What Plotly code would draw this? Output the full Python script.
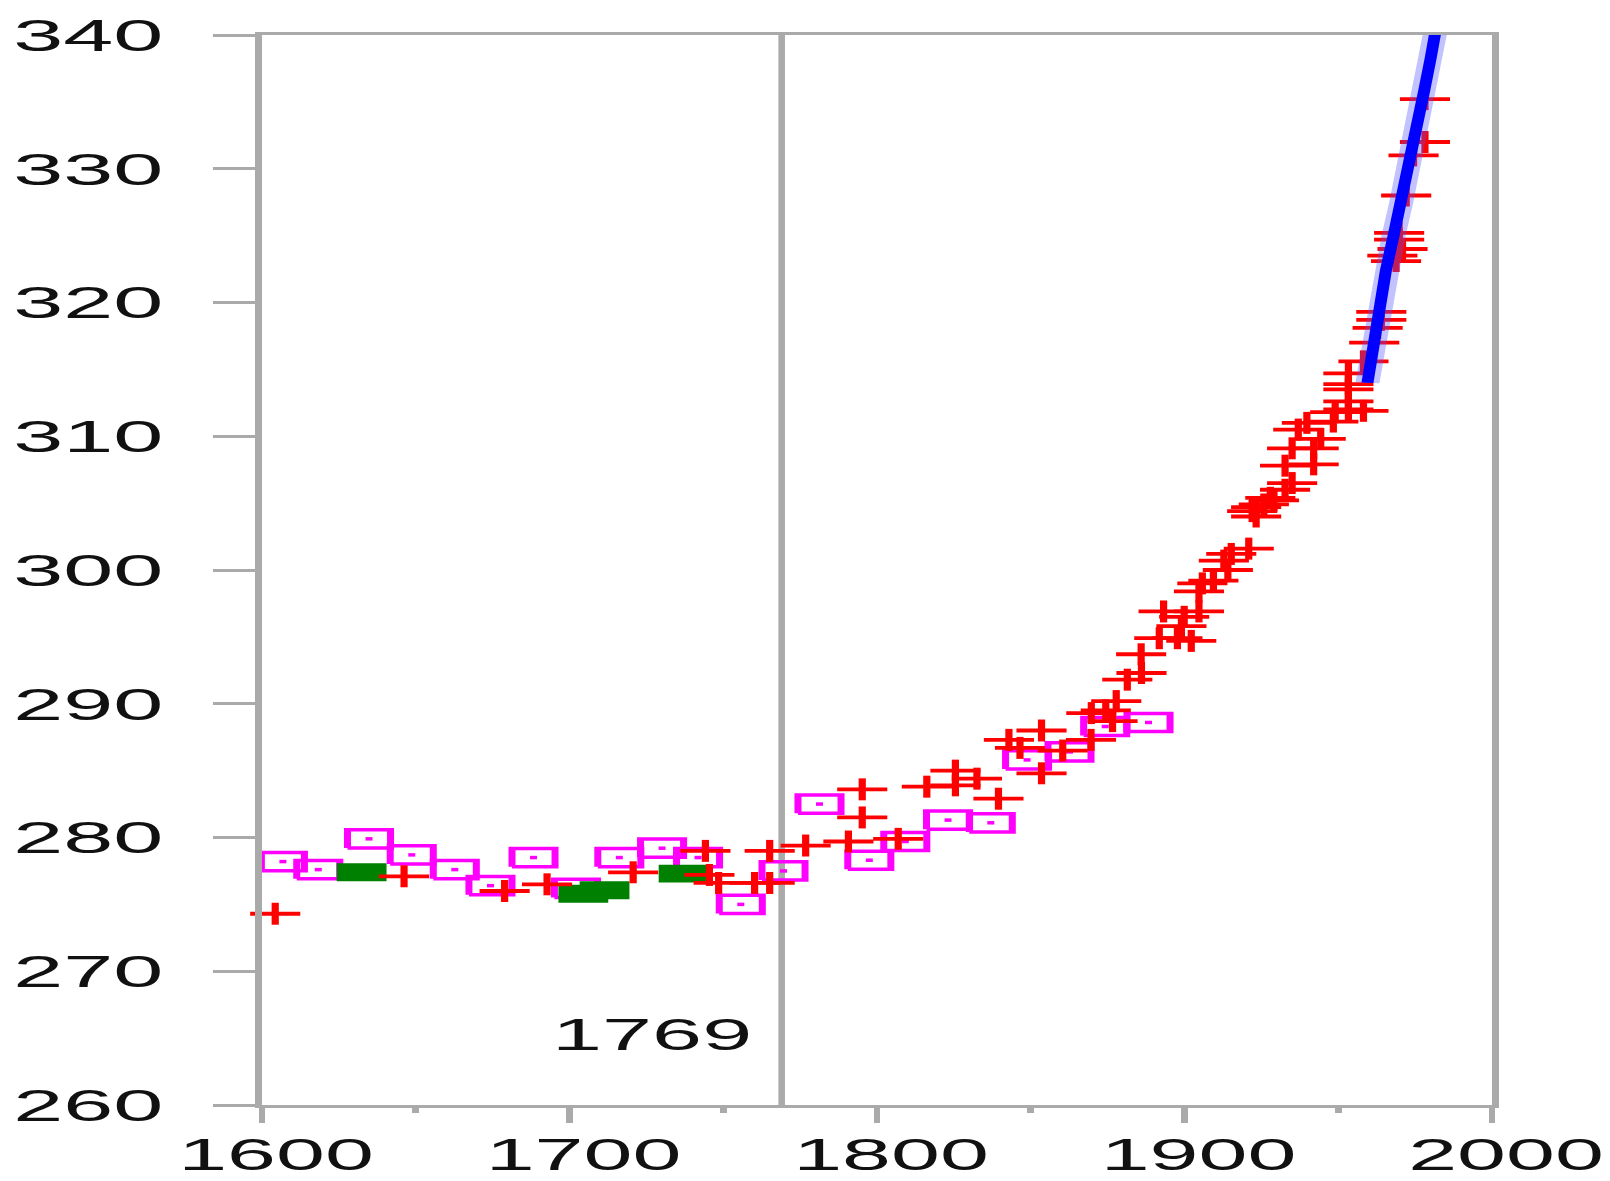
import plotly.graph_objects as go

# ---- axes ---------------------------------------------------------------
year_ticks = [1600, 1700, 1800, 1900, 2000]
year_minor_ticks = [1650, 1750, 1850, 1950]
co2_ticks = [260, 270, 280, 290, 300, 310, 320, 330, 340]
industrial_year = 1769

# ---- red "+" series -----------------------------------------------------
plus_year = [
    1604.3, 1646.2, 1678.9, 1692.7, 1720.7, 1744.2, 1745.5, 1748.5, 1760.2,
    1765.1, 1765.1, 1776.8, 1790.7, 1795.2, 1795.2, 1806.9, 1816.2, 1825.5,
    1825.5, 1832.5, 1839.5, 1842.9, 1846.5, 1853.5, 1853.5, 1860.4, 1869.6,
    1869.7, 1874.4, 1876.6, 1877.8, 1881.4, 1885.9, 1886.0, 1891.8, 1893.2,
    1897.7, 1899.0, 1899.9, 1902.2, 1904.7, 1904.7, 1905.8, 1909.4, 1912.8,
    1914.1, 1915.2, 1920.9, 1922.0, 1923.3, 1923.3, 1925.8, 1927.9, 1929.1,
    1932.7, 1935.0, 1932.7, 1942.0, 1935.0, 1942.0, 1937.0, 1939.8, 1944.3,
    1948.4, 1949.0, 1953.3, 1953.3, 1953.3, 1953.3, 1953.3, 1958.2, 1958.2,
    1961.7, 1962.8, 1964.0, 1964.0, 1967.6, 1968.8, 1969.8, 1969.8, 1970.9,
    1972.1, 1974.5, 1978.2, 1978.2,
]
plus_co2 = [
    274.3, 277.1, 276.0, 276.5, 277.4, 279.0, 277.2, 276.6, 276.6,
    276.6, 279.0, 279.4, 279.7, 281.5, 283.6, 279.9, 283.8, 283.9,
    285.0, 284.4, 282.9, 287.3, 286.7, 284.8, 288.0, 286.5, 287.3,
    289.3, 289.5, 288.7, 290.2, 291.8, 293.7, 292.3, 294.9, 296.9,
    294.9, 295.8, 296.5, 294.7, 296.9, 298.4, 299.0, 299.2, 300.7,
    300.0, 301.2, 301.6, 304.4, 304.0, 304.7, 304.9, 305.4, 305.2,
    306.0, 306.5, 307.8, 307.9, 309.1, 309.1, 310.5, 311.0, 309.8,
    311.1, 311.8, 312.0, 312.6, 313.5, 313.9, 314.7, 311.9, 315.6,
    317.0, 318.1, 318.7, 319.3, 323.5, 323.1, 324.7, 325.2, 324.0,
    328.0, 331.0, 332.0, 335.2,
]

# ---- magenta open-box series -------------------------------------------
box_year = [
    1606.8, 1618.3, 1634.8, 1648.7, 1662.7, 1674.3, 1688.3, 1702.1, 1716.2,
    1730.1, 1741.8, 1755.7, 1769.6, 1781.3, 1797.5, 1809.2, 1823.1, 1837.0,
    1848.8, 1862.6, 1874.2, 1888.3,
]
box_co2 = [
    278.2, 277.6, 279.9, 278.7, 277.6, 276.4, 278.5, 276.2, 278.5,
    279.2, 278.5, 275.0, 277.5, 282.5, 278.3, 279.7, 281.3, 281.1,
    285.8, 286.4, 288.3, 288.6,
]

# ---- green filled-box series -------------------------------------------
block_year = [1632.4, 1704.5, 1711.4, 1737.1]
block_co2 = [277.4, 275.8, 276.05, 277.3]

# ---- blue continuous record --------------------------------------------
line_year = [1959.5, 1961.5, 1963.5, 1965.5, 1968.0, 1970.5, 1973.0,
             1975.5, 1978.0, 1980.0, 1981.8]
line_co2 = [314.0, 317.0, 319.8, 322.4, 325.0, 327.5, 330.4,
            333.3, 335.9, 338.2, 340.5]

AXIS_GREY = "#aaaaaa"
FONT = "Liberation Sans, Arial, Helvetica, sans-serif"


def rect_path(xs, ys, half_w, half_h):
    """Closed rectangles around each point, separated by gaps."""
    px, py = [], []
    for x, y in zip(xs, ys):
        px += [x - half_w, x + half_w, x + half_w, x - half_w, x - half_w, None]
        py += [y - half_h, y - half_h, y + half_h, y + half_h, y - half_h, None]
    return px, py


fig = go.Figure()

# open magenta boxes with a dot in the middle
bx, by = rect_path(box_year, box_co2, 7.0, 0.68)
fig.add_trace(go.Scatter(x=bx, y=by, mode="lines",
                         line=dict(color="#ff00ff", width=3.5),
                         hoverinfo="skip"))
fig.add_trace(go.Scatter(x=box_year, y=box_co2, mode="markers",
                         marker=dict(symbol="square", size=3.5, color="#ff00ff",
                                     line=dict(width=0)),
                         hoverinfo="skip"))

# solid green boxes
gx, gy = rect_path(block_year, block_co2, 8.1, 0.67)
fig.add_trace(go.Scatter(x=gx, y=gy, mode="lines", fill="toself",
                         fillcolor="#008000", line=dict(color="#008000", width=0),
                         hoverinfo="skip"))

# red plus signs: horizontal and vertical strokes
fig.add_trace(go.Scatter(x=plus_year, y=plus_co2, mode="markers", cliponaxis=False,
                         marker=dict(symbol="line-ew", size=17.9, color="#ff0000",
                                     line=dict(color="#ff0000", width=3.8)),
                         hoverinfo="skip"))
fig.add_trace(go.Scatter(x=plus_year, y=plus_co2, mode="markers", cliponaxis=False,
                         marker=dict(symbol="line-ns", size=15.7, color="#ff0000",
                                     line=dict(color="#ff0000", width=3.6)),
                         hoverinfo="skip"))

# blue record with its soft fringe
fig.add_trace(go.Scatter(x=line_year, y=line_co2, mode="lines",
                         line=dict(color="rgba(80,80,255,0.35)", width=12),
                         hoverinfo="skip"))
fig.add_trace(go.Scatter(x=line_year, y=line_co2, mode="lines",
                         line=dict(color="#0000ff", width=6),
                         hoverinfo="skip"))

# marker for the start year
fig.add_shape(type="line", xref="x", yref="paper",
              x0=industrial_year, x1=industrial_year, y0=0, y1=1,
              line=dict(color=AXIS_GREY, width=3.3), layer="below")
fig.add_annotation(x=industrial_year, y=265.3, xref="x", yref="y",
                   text=str(industrial_year), showarrow=False,
                   xanchor="right", yanchor="middle", xshift=-12.5,
                   font=dict(family=FONT, size=45, color="#111111"))

fig.update_layout(
    width=805, height=1181,
    margin=dict(l=131, r=59, t=35, b=76, pad=0),
    paper_bgcolor="white", plot_bgcolor="white",
    showlegend=False,
    font=dict(family=FONT, size=45, color="#111111"),
    xaxis=dict(
        range=[1600, 2000], tickmode="array", tickvals=year_ticks,
        ticktext=[str(v) for v in year_ticks],
        tickfont=dict(family=FONT, size=44, color="#111111"),
        ticks="outside", ticklen=15, tickwidth=3.3, tickcolor=AXIS_GREY,
        showline=True, linecolor=AXIS_GREY, linewidth=3, mirror=True,
        showgrid=False, zeroline=False, automargin=False,
        ticklabelstandoff=-6, ticklabelshift=7,
        minor=dict(tickmode="array", tickvals=year_minor_ticks, ticks="outside",
                   ticklen=5, tickwidth=3.3, tickcolor=AXIS_GREY, showgrid=False),
    ),
    yaxis=dict(
        range=[260, 340], tickmode="array", tickvals=co2_ticks,
        ticktext=[str(v) for v in co2_ticks],
        ticks="outside", ticklen=21, tickwidth=3, tickcolor=AXIS_GREY,
        showline=True, linecolor=AXIS_GREY, linewidth=3.3, mirror=True,
        showgrid=False, zeroline=False, automargin=False,
        ticklabelstandoff=16,
    ),
)

# The chart is laid out at half width and widened 2x horizontally on the page.
stretch = """
var gd = document.getElementById('{plot_id}');
document.documentElement.style.margin = '0';
document.body.style.margin = '0';
document.body.style.overflow = 'hidden';
gd.style.transformOrigin = '0 0';
gd.style.transform = 'scaleX(2)';
"""

fig.write_html("out.html", post_script=stretch,
               config={"displayModeBar": False, "staticPlot": True})
